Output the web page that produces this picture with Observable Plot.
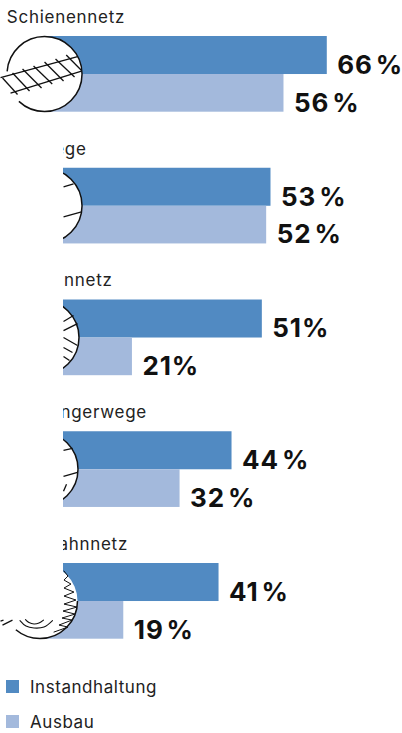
<!DOCTYPE html>
<html><head><meta charset="utf-8">
<script src="https://cdn.jsdelivr.net/npm/d3@7"></script>
<script src="https://cdn.jsdelivr.net/npm/@observablehq/plot@0.6"></script>
<style>
html,body{margin:0;padding:0;background:#fff}
svg{display:block;position:absolute;left:0;top:0}
.lbl text{letter-spacing:.72px}
.val text{letter-spacing:.9px}
.leg{position:absolute;left:6px;font:400 17px Inter,sans-serif;color:#222;height:14px;line-height:14px;white-space:nowrap;letter-spacing:.55px}
.leg i{display:inline-block;width:13px;height:13px;margin-right:11px;vertical-align:top}
</style></head><body>
<script>
const categories = ["Schienennetz","Radwege","Straßennetz","Fußgängerwege","Autobahnnetz"];
const instandhaltung = [66,53,51,44,41];
const ausbau = [56,52,21,32,19];
const seriesNames = ["Instandhaltung","Ausbau"];
const seriesColors = ["#518ac2","#a3b9dc"];
const valueLabels = v => (v===51||v===21) ? v + "%" : v + "\u200a%";

// decorative line art: offsets in px from each circle's centre
const artRow0 = [[-44,3.5,33,-17.5],[-34,19,37,-3],[-42,4,-27,20.5],[-32,-1,-15,17],[-22,-5,-3,14],[-11,-8,7.7,10],[0,-12,19,7],[11,-15,30,3],[21.7,-19,37,-3.5]];
const artRow1 = [[19,-19,29,-22],[19,11,37,6]];
const artRow2 = [[22,-16,32,-22],[22,-7,36,-14],[22,0,36,8],[22,10,31,15],[22,19,28,23]];
const artRow3 = [[23,-19,32,-21],[23,7,37,3],[23,22,26,15]];
const stray = [[-37.5,24,-27.5,19],[-39.5,20,-36.5,19]];
const zigzag = [[24,-30],[28,-25],[24,-21],[31,-17],[24,-13],[34,-9],[24,-5],[36,-1],[24,3],[37,6],[23,10],[35,13],[22,17],[32,19],[19,24],[28,26],[14,31]];
const arc1 = [[-14.5,18.5],[-11,21.5],[-6,23],[-1,22],[3.5,19]];
const arc2 = [[-20,19.5],[-14,25],[-6,27],[4,26],[12.5,19.5]];
const centreX = [0.7,0.7,0,-0.23,-0.35];

const xUnit = 1/4.33, yUnit = 1/131.75, R = 37.5;
const rows = categories.map((c,i)=>({c,i,a:instandhaltung[i],b:ausbau[i],cx:centreX[i],cy:i+0.285}));
const bars = rows.flatMap(r=>[
  {v:r.a,y1:r.i,y2:r.i+0.2885,s:seriesNames[0]},
  {v:r.b,y1:r.i+0.2885,y2:r.i+0.5745,s:seriesNames[1]}]);
const link = (i,l)=>({x1:rows[i].cx+l[0]*xUnit,y1:rows[i].cy+l[1]*yUnit,x2:rows[i].cx+l[2]*xUnit,y2:rows[i].cy+l[3]*yUnit});
const art = [artRow0,artRow1,artRow2,artRow3,stray].flatMap((a,k)=>a.map(l=>link(k,l)));
const pts = a=>a.map(p=>({x:rows[4].cx+p[0]*xUnit,y:rows[4].cy+p[1]*yUnit}));

const chart = Plot.plot({
  width:402,height:650,margin:0,
  x:{domain:[-9.47,83.37],range:[0,402],axis:null},
  y:{domain:[-0.2733,4.6603],range:[0,650],axis:null},
  color:{domain:seriesNames,range:seriesColors},
  marks:[
    Plot.rect(bars,{x1:0,x2:"v",y1:"y1",y2:"y2",fill:"s"}),
    Plot.text(rows,{x:-8,y:"i",text:"c",textAnchor:"start",dy:-19,fontSize:17,fontFamily:"Inter",fill:"#222",className:"lbl"}),
    Plot.dot(rows,{x:"cx",y:"cy",r:R,fill:"#fff",stroke:null}),
    Plot.dot(rows.slice(0,4),{x:"cx",y:"cy",r:R,stroke:"#111",strokeWidth:1.5,strokeDasharray:"87,33.4,115.2"}),
    Plot.dot(rows.slice(4),{x:"cx",y:"cy",r:R,stroke:"#111",strokeWidth:1.5,strokeDasharray:"85,151"}),
    Plot.line(pts(arc1),{x:"x",y:"y",curve:"catmull-rom",stroke:"#111",strokeWidth:1.1}),
    Plot.line(pts(arc2),{x:"x",y:"y",curve:"catmull-rom",stroke:"#111",strokeWidth:1.1}),
    Plot.line(pts(zigzag),{x:"x",y:"y",stroke:"#111",strokeWidth:1}),
    Plot.link(art,{x1:"x1",y1:"y1",x2:"x2",y2:"y2",stroke:"#111",strokeWidth:1.3}),
    Plot.rect([{}],{x1:-9.47,x2:5.08,y1:0.675,y2:4.405,fill:"#fff"}),
    Plot.text(bars,{x:"v",y:"y2",text:d=>valueLabels(d.v),textAnchor:"start",dx:10,dy:-9,fontSize:26,fontWeight:700,fontFamily:"Inter",fill:"#111",className:"val"})
  ]
});
chart.setAttribute("style","");
document.body.appendChild(chart);
seriesNames.forEach((n,i)=>{
  const d=document.createElement("div");d.className="leg";d.style.top=(680+i*35)+"px";
  d.innerHTML=`<i style="background:${seriesColors[i]}"></i>${n}`;
  document.body.appendChild(d);
});
</script></body></html>
